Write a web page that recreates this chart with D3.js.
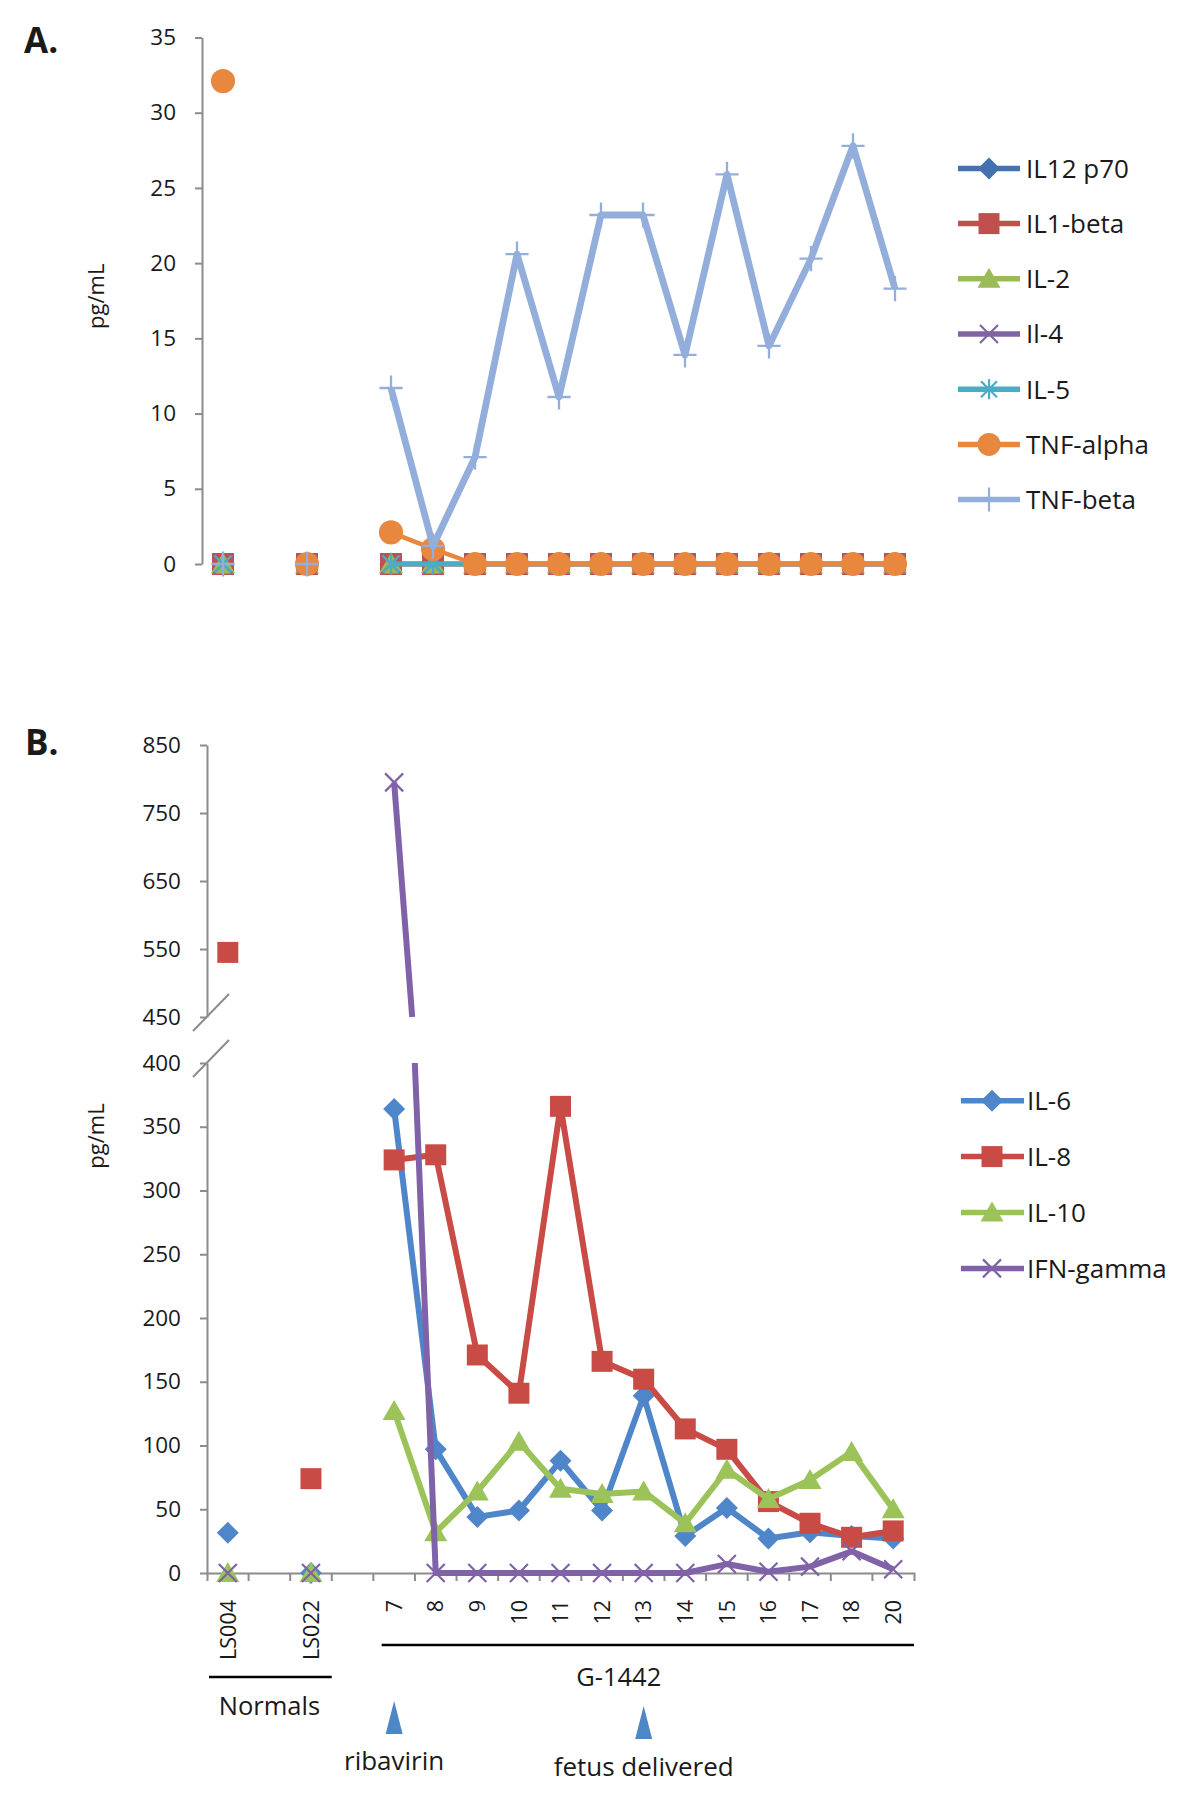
<!DOCTYPE html>
<html><head><meta charset="utf-8">
<script src="https://cdn.jsdelivr.net/npm/d3@7"></script>
<style>
body{margin:0;background:#fff}
svg{display:block}
text{font-family:"Open Sans",sans-serif;fill:#1a1a1a}
</style>
</head><body>
<svg id="chart" width="1200" height="1794"></svg>
<script>
// ---------------- DATA ----------------
const categories = ["LS004", "", "LS022", "", "7", "8", "9", "10", "11", "12", "13", "14", "15", "16", "17", "18", "20"];

// Panel A (pg/mL)
const seriesNamesA = ["IL12 p70", "IL1-beta", "IL-2", "Il-4", "IL-5", "TNF-alpha", "TNF-beta"];
const il12p70  = [0, null, 0, null, 0, 0, 0, 0, 0, 0, 0, 0, 0, 0, 0, 0, 0];
const il1beta  = [0, null, 0, null, 0, 0, 0, 0, 0, 0, 0, 0, 0, 0, 0, 0, 0];
const il2      = [0, null, 0, null, 0, 0, 0, 0, 0, 0, 0, 0, 0, 0, 0, 0, 0];
const il4      = [0, null, 0, null, 0, 0, 0, 0, 0, 0, 0, 0, 0, 0, 0, 0, 0];
const il5      = [0, null, 0, null, 0, 0, 0, 0, 0, 0, 0, 0, 0, 0, 0, 0, 0];
const tnfAlpha = [32.1, null, 0, null, 2.1, 1.0, 0, 0, 0, 0, 0, 0, 0, 0, 0, 0, 0];
const tnfBeta  = [0, null, 0, null, 11.7, 1.2, 7.1, 20.6, 11.1, 23.2, 23.2, 13.9, 25.9, 14.5, 20.3, 27.8, 18.3];
const ticksA = [0, 5, 10, 15, 20, 25, 30, 35];

// Panel B (pg/mL), broken axis
const seriesNamesB = ["IL-6", "IL-8", "IL-10", "IFN-gamma"];
const il6      = [31.5, null, 0, null, 364, 97, 44, 49, 88, 49, 139, 29, 51, 27, 32, 29, 27];
const il8      = [545, null, 74, null, 324, 328, 171, 141, 366, 166, 152, 113, 97, 56, 39, 28, 33];
const il10     = [0, null, 0, null, 127, 32, 64, 103, 66, 62, 64, 39, 81, 58, 73, 95, 50];
const ifnGamma = [0, null, 0, null, 795, 0, 0, 0, 0, 0, 0, 0, 7, 1, 5, 17, 3];
const ticksBLower = [0, 50, 100, 150, 200, 250, 300, 350, 400];
const ticksBUpper = [450, 550, 650, 750, 850];

const groupLabels = ["Normals", "G-1442"];
const eventLabels = ["ribavirin", "fetus delivered"];
const eventCategories = ["7", "13"];
const axisTitle = "pg/mL";
const panelLabels = ["A.", "B."];

// ---------------- STYLE ----------------
const stylesA = [
  {color:"#4472B0", marker:"diamond", width:4.5},
  {color:"#C0504D", marker:"square", width:4.5},
  {color:"#9BBB59", marker:"triangle", width:4.5},
  {color:"#8064A2", marker:"x", width:4.5},
  {color:"#4BACC6", marker:"asterisk", width:4.5},
  {color:"#E8873E", marker:"circle", width:4.5},
  {color:"#93AEDB", marker:"plus", width:6.8}
];
const stylesB = [
  {color:"#4F86C9", marker:"diamond", width:6},
  {color:"#C94B46", marker:"square", width:6},
  {color:"#9BC35A", marker:"triangle", width:6},
  {color:"#8062A8", marker:"x", width:6}
];
const AXIS = "#8C8C8C";
const TICK_FONT = 22.5;

const svg = d3.select("#chart");

function drawMarker(g, type, x, y, color, big) {
  const k = big ? 1.05 : 1;
  if (type === "circle") {
    g.append("circle").attr("cx", x).attr("cy", y).attr("r", 11.5 * k).attr("fill", color);
    return;
  }
  let d, filled = true;
  if (type === "diamond") d = "M0,-11L11,0L0,11L-11,0Z";
  else if (type === "square") d = "M-10.5,-10.5h21v21h-21Z";
  else if (type === "triangle") d = "M0,-11L11.5,9L-11.5,9Z";
  else if (type === "x") { d = "M-9,-9L9,9M-9,9L9,-9"; filled = false; }
  else if (type === "asterisk") { d = "M-8,-8L8,8M-8,8L8,-8M0,-10V10"; filled = false; }
  else if (type === "plus") { d = "M-11,0H11M0,-12V12"; filled = false; }
  const p = g.append("path").attr("d", d).attr("transform", `translate(${x},${y}) scale(${k})`);
  if (filled) p.attr("fill", color);
  else p.attr("fill", "none").attr("stroke", color).attr("stroke-width", 2.2);
}

// ================= PANEL A =================
const xA = d3.scaleBand().domain(d3.range(categories.length)).range([202, 916]).padding(0);
const yA = d3.scaleLinear().domain([0, 35]).range([564, 37.5]);
const cxA = i => xA(i) + xA.bandwidth() / 2;

svg.append("text").attr("x", 24).attr("y", 53).attr("font-size", 35).attr("font-weight", 700)
  .text(panelLabels[0]);

const axA = svg.append("g").attr("transform", "translate(202,0)")
  .call(d3.axisLeft(yA).tickValues(ticksA).tickSize(7).tickSizeOuter(0).tickPadding(19));
axA.select(".domain").attr("stroke", AXIS).attr("stroke-width", 2);
axA.selectAll(".tick line").attr("stroke", AXIS).attr("stroke-width", 2);
axA.selectAll(".tick text").attr("font-size", TICK_FONT).attr("font-family", "Open Sans").attr("fill", "#1a1a1a");

svg.append("text").attr("transform", `translate(104,${yA(17.8)}) rotate(-90)`)
  .attr("text-anchor", "middle").attr("font-size", 22).text(axisTitle);

const dataA = [il12p70, il1beta, il2, il4, il5, tnfAlpha, tnfBeta];
const lineA = d3.line().defined(d => d[1] !== null).x(d => cxA(d[0])).y(d => yA(d[1]));
dataA.forEach((vals, s) => {
  const st = stylesA[s];
  const g = svg.append("g");
  const pts = vals.map((v, i) => [i, v]);
  g.append("path").attr("d", lineA(pts)).attr("fill", "none").attr("stroke", st.color)
    .attr("stroke-width", st.width).attr("stroke-linejoin", "round").attr("stroke-linecap", "butt");
  pts.forEach(([i, v]) => { if (v !== null) drawMarker(g, st.marker, cxA(i), yA(v), st.color, true); });
});

// Legend A
const legA = svg.append("g");
seriesNamesA.forEach((name, i) => {
  const y = 168.4 + i * 55.2, st = stylesA[i];
  legA.append("line").attr("x1", 958).attr("x2", 1020).attr("y1", y).attr("y2", y)
    .attr("stroke", st.color).attr("stroke-width", 5.5);
  drawMarker(legA, st.marker, 989, y, st.color, false);
  legA.append("text").attr("x", 1026).attr("y", y).attr("dy", "0.36em").attr("font-size", 26).text(name);
});

// ================= PANEL B =================
const xB = d3.scaleBand().domain(d3.range(categories.length)).range([207, 914]).padding(0);
const cxB = i => xB(i) + xB.bandwidth() / 2;
const yLower = d3.scaleLinear().domain([0, 400]).range([1573, 1063]);
const yUpper = d3.scaleLinear().domain([450, 850]).range([1017, 745]);
const yB = d3.scaleLinear().domain([0, 400, 450, 850]).range([1573, 1063, 1017, 745]);

svg.append("text").attr("x", 25).attr("y", 755).attr("font-size", 35).attr("font-weight", 700)
  .text(panelLabels[1]);

function styleAxis(ax) {
  ax.select(".domain").attr("stroke", AXIS).attr("stroke-width", 2);
  ax.selectAll(".tick line").attr("stroke", AXIS).attr("stroke-width", 2);
  ax.selectAll(".tick text").attr("font-size", TICK_FONT).attr("font-family", "Open Sans").attr("fill", "#1a1a1a");
}
const axBL = svg.append("g").attr("transform", "translate(207,0)")
  .call(d3.axisLeft(yLower).tickValues(ticksBLower).tickSize(7).tickSizeOuter(0).tickPadding(19));
styleAxis(axBL);
const axBU = svg.append("g").attr("transform", "translate(207,0)")
  .call(d3.axisLeft(yUpper).tickValues(ticksBUpper).tickSize(7).tickSizeOuter(0).tickPadding(19));
styleAxis(axBU);

// break marks
[[yB(450) + 14, yB(450) - 23], [yB(400) + 14, yB(400) - 23]].forEach(([y1, y2]) => {
  svg.append("line").attr("x1", 193).attr("x2", 229).attr("y1", y1).attr("y2", y2)
    .attr("stroke", AXIS).attr("stroke-width", 2);
});

// x axis
const axBX = svg.append("g").attr("transform", "translate(0,1573)")
  .call(d3.axisBottom(xB).tickSize(0).tickSizeOuter(8).tickFormat(i => categories[i]));
axBX.select(".domain").attr("stroke", AXIS).attr("stroke-width", 2);
axBX.selectAll(".tick text").attr("font-size", 21.5).attr("font-family", "Open Sans").attr("fill", "#1a1a1a")
  .attr("transform", "rotate(-90)").attr("x", -27).attr("y", 0).attr("dy", "0.36em").attr("text-anchor", "end");
d3.range(1, categories.length).forEach(i => {
  axBX.append("line").attr("x1", xB(i)).attr("x2", xB(i)).attr("y1", 0).attr("y2", 8)
    .attr("stroke", AXIS).attr("stroke-width", 2);
});

svg.append("text").attr("transform", `translate(104,1136) rotate(-90)`)
  .attr("text-anchor", "middle").attr("font-size", 22).text(axisTitle);

// lines with broken axis: split each segment where it enters the 400-450 gap
function runsFor(vals) {
  const runs = [];
  let cur = [];
  const regionOf = a => a <= 400 ? 0 : (a >= 450 ? 2 : 1);
  for (let i = 0; i < vals.length; i++) {
    const v = vals[i];
    if (v === null) { if (cur.length > 1) runs.push(cur); cur = []; continue; }
    if (cur.length === 0) { cur.push([i, v]); continue; }
    const [pi, pv] = cur[cur.length - 1];
    if (regionOf(pv) !== regionOf(v)) {
      const lo = 400, hi = 450;
      const tAt = b => (b - pv) / (v - pv);
      if (pv > v) {
        if (pv > hi) cur.push([pi + tAt(hi), hi]);
        if (cur.length > 1) runs.push(cur);
        cur = [];
        if (v < lo) cur.push([pi + tAt(lo), lo]);
      } else {
        if (pv < lo) cur.push([pi + tAt(lo), lo]);
        if (cur.length > 1) runs.push(cur);
        cur = [];
        if (v > hi) cur.push([pi + tAt(hi), hi]);
      }
    }
    cur.push([i, v]);
  }
  if (cur.length > 1) runs.push(cur);
  return runs;
}
const xPos = idx => xB(0) + (idx + 0.5) * xB.bandwidth();
const lineB = d3.line().x(d => xPos(d[0])).y(d => yB(d[1]));

const dataB = [il6, il8, il10, ifnGamma];
dataB.forEach((vals, s) => {
  const st = stylesB[s];
  const g = svg.append("g");
  runsFor(vals).forEach(run => {
    g.append("path").attr("d", lineB(run)).attr("fill", "none").attr("stroke", st.color)
      .attr("stroke-width", st.width).attr("stroke-linejoin", "round").attr("stroke-linecap", "butt");
  });
  vals.forEach((v, i) => { if (v !== null) drawMarker(g, st.marker, cxB(i), yB(v), st.color, false); });
});

// Legend B
const legB = svg.append("g");
seriesNamesB.forEach((name, i) => {
  const y = 1100.7 + i * 55.9, st = stylesB[i];
  legB.append("line").attr("x1", 961).attr("x2", 1024).attr("y1", y).attr("y2", y)
    .attr("stroke", st.color).attr("stroke-width", 5.5);
  drawMarker(legB, st.marker, 992, y, st.color, false);
  legB.append("text").attr("x", 1027).attr("y", y).attr("dy", "0.36em").attr("font-size", 26).text(name);
});

// group underlines and labels
svg.append("line").attr("x1", xB(0) + 2).attr("x2", xB(3)).attr("y1", 1677).attr("y2", 1677)
  .attr("stroke", "#000").attr("stroke-width", 2.5);
svg.append("text").attr("x", (xB(0) + xB(3)) / 2).attr("y", 1715).attr("text-anchor", "middle")
  .attr("font-size", 25.5).text(groupLabels[0]);
svg.append("line").attr("x1", xB(4) + 0.2 * xB.bandwidth()).attr("x2", 914).attr("y1", 1645).attr("y2", 1645)
  .attr("stroke", "#000").attr("stroke-width", 2.5);
svg.append("text").attr("x", xB(9) + 0.9 * xB.bandwidth()).attr("y", 1686).attr("text-anchor", "middle")
  .attr("font-size", 25.5).text(groupLabels[1]);

// event markers
eventCategories.forEach((c, k) => {
  const i = categories.indexOf(c);
  const x = cxB(i);
  const top = k === 0 ? 1701 : 1706;
  svg.append("path").attr("d", `M${x},${top}L${x + 8.5},${top + 33}L${x - 8.5},${top + 33}Z`).attr("fill", "#4F86C6");
  svg.append("text").attr("x", x).attr("y", k === 0 ? 1770 : 1776).attr("text-anchor", "middle")
    .attr("font-size", 26).text(eventLabels[k]);
});
</script>
</body></html>
